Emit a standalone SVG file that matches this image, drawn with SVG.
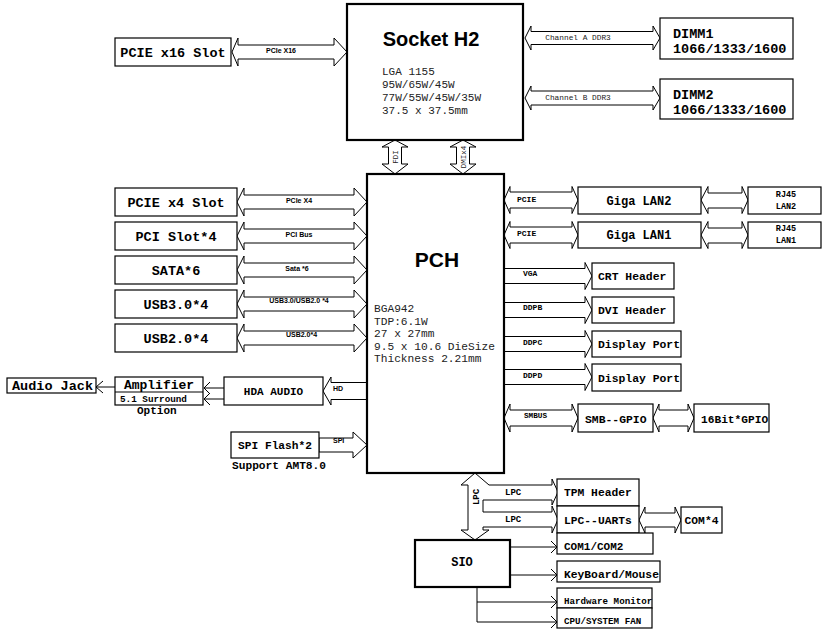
<svg xmlns="http://www.w3.org/2000/svg" width="822" height="629" viewBox="0 0 822 629">
<style>
.box{fill:#fff;stroke:#000;stroke-width:1.2}
.thick{fill:#fff;stroke:#000;stroke-width:2.2}
.arr{fill:#fff;stroke:#000;stroke-width:1}
.ln{fill:none;stroke:#000;stroke-width:1}
.mb{font-family:"Liberation Mono","Courier New",monospace;font-weight:bold;fill:#000}
.m{font-family:"Liberation Mono","Courier New",monospace;fill:#222}
.sb{font-family:"Liberation Sans",Arial,sans-serif;font-weight:bold;fill:#000}
.c{text-anchor:middle}
</style>
<rect width="822" height="629" fill="#fff"/>

<g id="connectors">
  <!-- CPU links -->
  <polygon class="arr" points="232,52 238,38 238,45 334,45 334,38 347,52 334,66 334,59 238,59 238,66"/>
  <polygon class="arr" points="525,38 531,26 531,31.5 653,31.5 653,26 660,38 653,50 653,44.5 531,44.5 531,50"/>
  <polygon class="arr" points="525,98 531,86 531,91 653,91 653,86 660,98 653,110 653,105 531,105 531,110"/>
  <polygon class="arr" points="395,140 408,147 401.5,147 401.5,164 408,164 395,174 382,164 388.5,164 388.5,147 382,147"/>
  <polygon class="arr" points="463,140 476,147 469.5,147 469.5,164 476,164 463,174 450,164 456.5,164 456.5,147 450,147"/>
  <!-- Left PCH links -->
  <polygon class="arr" points="237,202 244,188 244,195 354,195 354,188 367,202 354,216 354,209 244,209 244,216"/>
  <polygon class="arr" points="237,236 244,222 244,229 354,229 354,222 367,236 354,250 354,243 244,243 244,250"/>
  <polygon class="arr" points="237,270 244,256 244,263 354,263 354,256 367,270 354,284 354,277 244,277 244,284"/>
  <polygon class="arr" points="237,304 244,290 244,297 354,297 354,290 367,304 354,318 354,311 244,311 244,318"/>
  <polygon class="arr" points="237,338 244,324 244,331 354,331 354,324 367,338 354,352 354,345 244,345 244,352"/>
  <polygon class="arr" points="367,382.5 331,382.5 331,377 323,391 331,405 331,399.5 367,399.5"/>
  <polygon class="arr" points="319,438 353,438 353,432 367,445 353,458 353,452 319,452"/>
  <!-- Audio lines -->
  <polyline class="ln" points="224,388 204,388"/>
  <polyline class="ln" points="210,382 204,388 210,394"/>
  <polyline class="ln" points="224,399 204,399" stroke="#555"/>
  <polyline class="ln" points="210,393 204,399 210,405"/>
  <polyline class="ln" points="115,387 96,387"/>
  <polyline class="ln" points="103,381 96,387 103,393"/>
  <!-- Right PCH links -->
  <polygon class="arr" points="504,200 510,186.5 510,192 572,192 572,186.5 578,200 572,213.5 572,208 510,208 510,213.5"/>
  <polygon class="arr" points="504,235 510,221.5 510,227 572,227 572,221.5 578,235 572,248.5 572,243 510,243 510,248.5"/>
  <polygon class="arr" points="701,200 708,186.5 708,193 742,193 742,186.5 748,200 742,213.5 742,208 708,208 708,213.5"/>
  <polygon class="arr" points="701,235 708,221.5 708,228 742,228 742,221.5 748,235 742,248.5 742,243 708,243 708,248.5"/>
  <polygon class="arr" points="504,268.5 585,268.5 585,262.5 592,276 585,289.5 585,283.5 504,283.5"/>
  <polygon class="arr" points="504,302.5 585,302.5 585,296.5 592,310 585,323.5 585,317.5 504,317.5"/>
  <polygon class="arr" points="504,336.5 585,336.5 585,330.5 592,344 585,357.5 585,351.5 504,351.5"/>
  <polygon class="arr" points="504,369.5 585,369.5 585,363.5 592,377 585,390.5 585,384.5 504,384.5"/>
  <polygon class="arr" points="504,418 510,404 510,410 572,410 572,404 578,418 572,432 572,426 510,426 510,432"/>
  <polygon class="arr" points="653,418 659,404 659,410 688,410 688,404 694,418 688,432 688,426 659,426 659,432"/>
  <!-- LPC -->
  <polygon class="arr" points="475,473 489,485 552,485 552,479 558,492 552,505 552,500 483,500 483,512 552,512 552,506 558,519.5 552,533 552,527 483,527 483,530 489,530 475,540 461,530 468,530 468,485 461,485"/>
  <polygon class="arr" points="639,520 645,507 645,513 675,513 675,507 681,520 675,533 675,527 645,527 645,533"/>
  <!-- SIO lines -->
  <polyline class="ln" points="510,547 557,547"/>
  <polyline class="ln" points="551,541 557,547 551,553"/>
  <polyline class="ln" points="510,575 557,575"/>
  <polyline class="ln" points="551,569 557,575 551,581"/>
  <polyline class="ln" points="477,587 477,622 557,622"/>
  <polyline class="ln" points="477,602 557,602"/>
  <polyline class="ln" points="551,596 557,602 551,608"/>
  <polyline class="ln" points="551,616 557,622 551,628"/>
  <!-- labels -->
  <text class="sb c" x="281" y="52.5" font-size="7">PCIe X16</text>
  <text class="m c" x="578" y="40" font-size="7.8">Channel A DDR3</text>
  <text class="m c" x="578" y="100" font-size="7.8">Channel B DDR3</text>
  <text class="m c" font-size="7.5" transform="translate(397.5,157) rotate(-90)">FDI</text>
  <text class="m c" font-size="7.5" transform="translate(465.5,157) rotate(-90)">DMIx4</text>
  <text class="sb c" x="299" y="202.5" font-size="7">PCIe X4</text>
  <text class="sb c" x="299" y="236.5" font-size="7">PCI Bus</text>
  <text class="sb c" x="297" y="270.5" font-size="7">Sata *6</text>
  <text class="sb c" x="299" y="302.5" font-size="7">USB3.0/USB2.0 *4</text>
  <text class="sb c" x="301.5" y="336.5" font-size="7">USB2.0*4</text>
  <text class="sb" x="333" y="391" font-size="7">HD</text>
  <text class="sb" x="333" y="443" font-size="7">SPI</text>
  <text class="mb" x="517" y="202" font-size="8">PCIE</text>
  <text class="mb" x="517" y="236" font-size="8">PCIE</text>
  <text class="mb" x="523" y="276" font-size="8">VGA</text>
  <text class="mb" x="523" y="310" font-size="8">DDPB</text>
  <text class="mb" x="523" y="344.5" font-size="8">DDPC</text>
  <text class="mb" x="523" y="378" font-size="8">DDPD</text>
  <text class="mb" x="524" y="418" font-size="7.7">SMBUS</text>
  <text class="mb c" font-size="9" transform="translate(478.5,497) rotate(-90)">LPC</text>
  <text class="mb" x="505" y="495" font-size="9">LPC</text>
  <text class="mb" x="505" y="522" font-size="9">LPC</text>
</g>

<g id="socket">
  <rect class="thick" x="347" y="4" width="176" height="136"/>
  <text class="sb c" x="431" y="46" font-size="20">Socket H2</text>
  <text class="m" x="382" y="75" font-size="11">LGA 1155</text>
  <text class="m" x="382" y="88" font-size="11">95W/65W/45W</text>
  <text class="m" x="382" y="101" font-size="11">77W/55W/45W/35W</text>
  <text class="m" x="382" y="114" font-size="11">37.5 x 37.5mm</text>
</g>
<g id="pcie16"><rect class="box" x="115" y="38" width="116" height="28"/><text class="mb c" x="173" y="56.5" font-size="13.5">PCIE x16 Slot</text></g>
<g id="dimm1"><rect class="box" x="660" y="18" width="133" height="41"/><text class="mb" x="673" y="37.5" font-size="13.5">DIMM1</text><text class="mb" x="673" y="53" font-size="13.5">1066/1333/1600</text></g>
<g id="dimm2"><rect class="box" x="660" y="79" width="133" height="40"/><text class="mb" x="673" y="98.5" font-size="13.5">DIMM2</text><text class="mb" x="673" y="113.5" font-size="13.5">1066/1333/1600</text></g>

<g id="pch">
  <rect class="thick" x="367" y="174" width="137" height="299"/>
  <text class="sb c" x="437" y="267" font-size="21">PCH</text>
  <text class="m" x="374" y="312" font-size="11.2">BGA942</text>
  <text class="m" x="374" y="324.5" font-size="11.2">TDP:6.1W</text>
  <text class="m" x="374" y="337" font-size="11.2">27 x 27mm</text>
  <text class="m" x="374" y="349.5" font-size="11.2">9.5 x 10.6 DieSize</text>
  <text class="m" x="374" y="362" font-size="11.2">Thickness 2.21mm</text>
</g>

<g id="pcie4"><rect class="box" x="115" y="188" width="122" height="28"/><text class="mb c" x="176" y="206.5" font-size="13.5">PCIE x4 Slot</text></g>
<g id="pci"><rect class="box" x="115" y="222" width="122" height="28"/><text class="mb c" x="176" y="240.5" font-size="13.5">PCI Slot*4</text></g>
<g id="sata"><rect class="box" x="115" y="256" width="122" height="28"/><text class="mb c" x="176" y="274.5" font-size="13.5">SATA*6</text></g>
<g id="usb3"><rect class="box" x="115" y="290" width="122" height="28"/><text class="mb c" x="176" y="308.5" font-size="13.5">USB3.0*4</text></g>
<g id="usb2"><rect class="box" x="115" y="324" width="122" height="28"/><text class="mb c" x="176" y="342.5" font-size="13.5">USB2.0*4</text></g>

<g id="audiojack"><rect class="box" x="7" y="378" width="89" height="15"/><text class="mb" x="12" y="390" font-size="13.5">Audio Jack</text></g>
<g id="amplifier">
  <rect class="box" x="115" y="377" width="88" height="28"/>
  <line class="ln" x1="115" y1="392" x2="203" y2="392"/>
  <text class="mb c" x="159" y="389" font-size="13">Amplifier</text>
  <text class="mb" x="120" y="402" font-size="9.3">5.1 Surround</text>
  <text class="mb" x="137" y="414" font-size="11">Option</text>
</g>
<g id="hda"><rect class="box" x="224" y="377" width="99" height="28"/><text class="mb c" x="273.5" y="395" font-size="11">HDA AUDIO</text></g>
<g id="spi"><rect class="box" x="231" y="432" width="88" height="26"/><text class="mb c" x="275" y="449" font-size="11.2">SPI Flash*2</text><text class="mb" x="232" y="469" font-size="11.2">Support AMT8.0</text></g>

<g id="lan2"><rect class="box" x="578" y="187" width="123" height="27"/><text class="mb c" x="639" y="204.5" font-size="12">Giga LAN2</text></g>
<g id="lan1"><rect class="box" x="578" y="222" width="123" height="26"/><text class="mb c" x="639" y="239" font-size="12">Giga LAN1</text></g>
<g id="rj45_2"><rect class="box" x="748" y="187" width="73" height="27"/><text class="mb c" x="786" y="197" font-size="8.5">RJ45</text><text class="mb c" x="786" y="209" font-size="8.5">LAN2</text></g>
<g id="rj45_1"><rect class="box" x="748" y="222" width="73" height="26"/><text class="mb c" x="786" y="231" font-size="8.5">RJ45</text><text class="mb c" x="786" y="243" font-size="8.5">LAN1</text></g>
<g id="crt"><rect class="box" x="592" y="263" width="82" height="26"/><text class="mb" x="598" y="280" font-size="11.4">CRT Header</text></g>
<g id="dvi"><rect class="box" x="592" y="297" width="82" height="26"/><text class="mb" x="598" y="314" font-size="11.4">DVI Header</text></g>
<g id="dp1"><rect class="box" x="592" y="331" width="89" height="26"/><text class="mb" x="598" y="348" font-size="11.4">Display Port</text></g>
<g id="dp2"><rect class="box" x="592" y="364" width="89" height="27"/><text class="mb" x="598" y="381.5" font-size="11.4">Display Port</text></g>
<g id="smbgpio"><rect class="box" x="578" y="404" width="75" height="28"/><text class="mb" x="585" y="422.5" font-size="11.4">SMB--GPIO</text></g>
<g id="gpio16"><rect class="box" x="694" y="404" width="75" height="28"/><text class="mb" x="701" y="422.5" font-size="11.2">16Bit*GPIO</text></g>

<g id="tpm"><rect class="box" x="557" y="479" width="82" height="27"/><text class="mb" x="564" y="496" font-size="11.3">TPM Header</text></g>
<g id="uarts"><rect class="box" x="557" y="506" width="82" height="27"/><text class="mb" x="564" y="524" font-size="11.3">LPC--UARTs</text></g>
<g id="com4"><rect class="box" x="681" y="507" width="41" height="26"/><text class="mb c" x="701.5" y="524" font-size="11.3">COM*4</text></g>
<g id="sio"><rect class="thick" x="415" y="540" width="95" height="47"/><text class="mb c" x="462" y="566" font-size="12">SIO</text></g>
<g id="com12"><rect class="box" x="557" y="533" width="96" height="21"/><text class="mb" x="564" y="550" font-size="11">COM1/COM2</text></g>
<g id="kbms"><rect class="box" x="557" y="561" width="103" height="21"/><text class="mb" x="564" y="578" font-size="11.3">KeyBoard/Mouse</text></g>
<g id="hwmon"><rect class="box" x="557" y="588" width="95" height="20"/><text class="mb" x="564" y="604" font-size="9.2">Hardware Monitor</text></g>
<g id="fan"><rect class="box" x="557" y="608" width="95" height="20"/><text class="mb" x="564" y="624" font-size="9.2">CPU/SYSTEM FAN</text></g>
</svg>
